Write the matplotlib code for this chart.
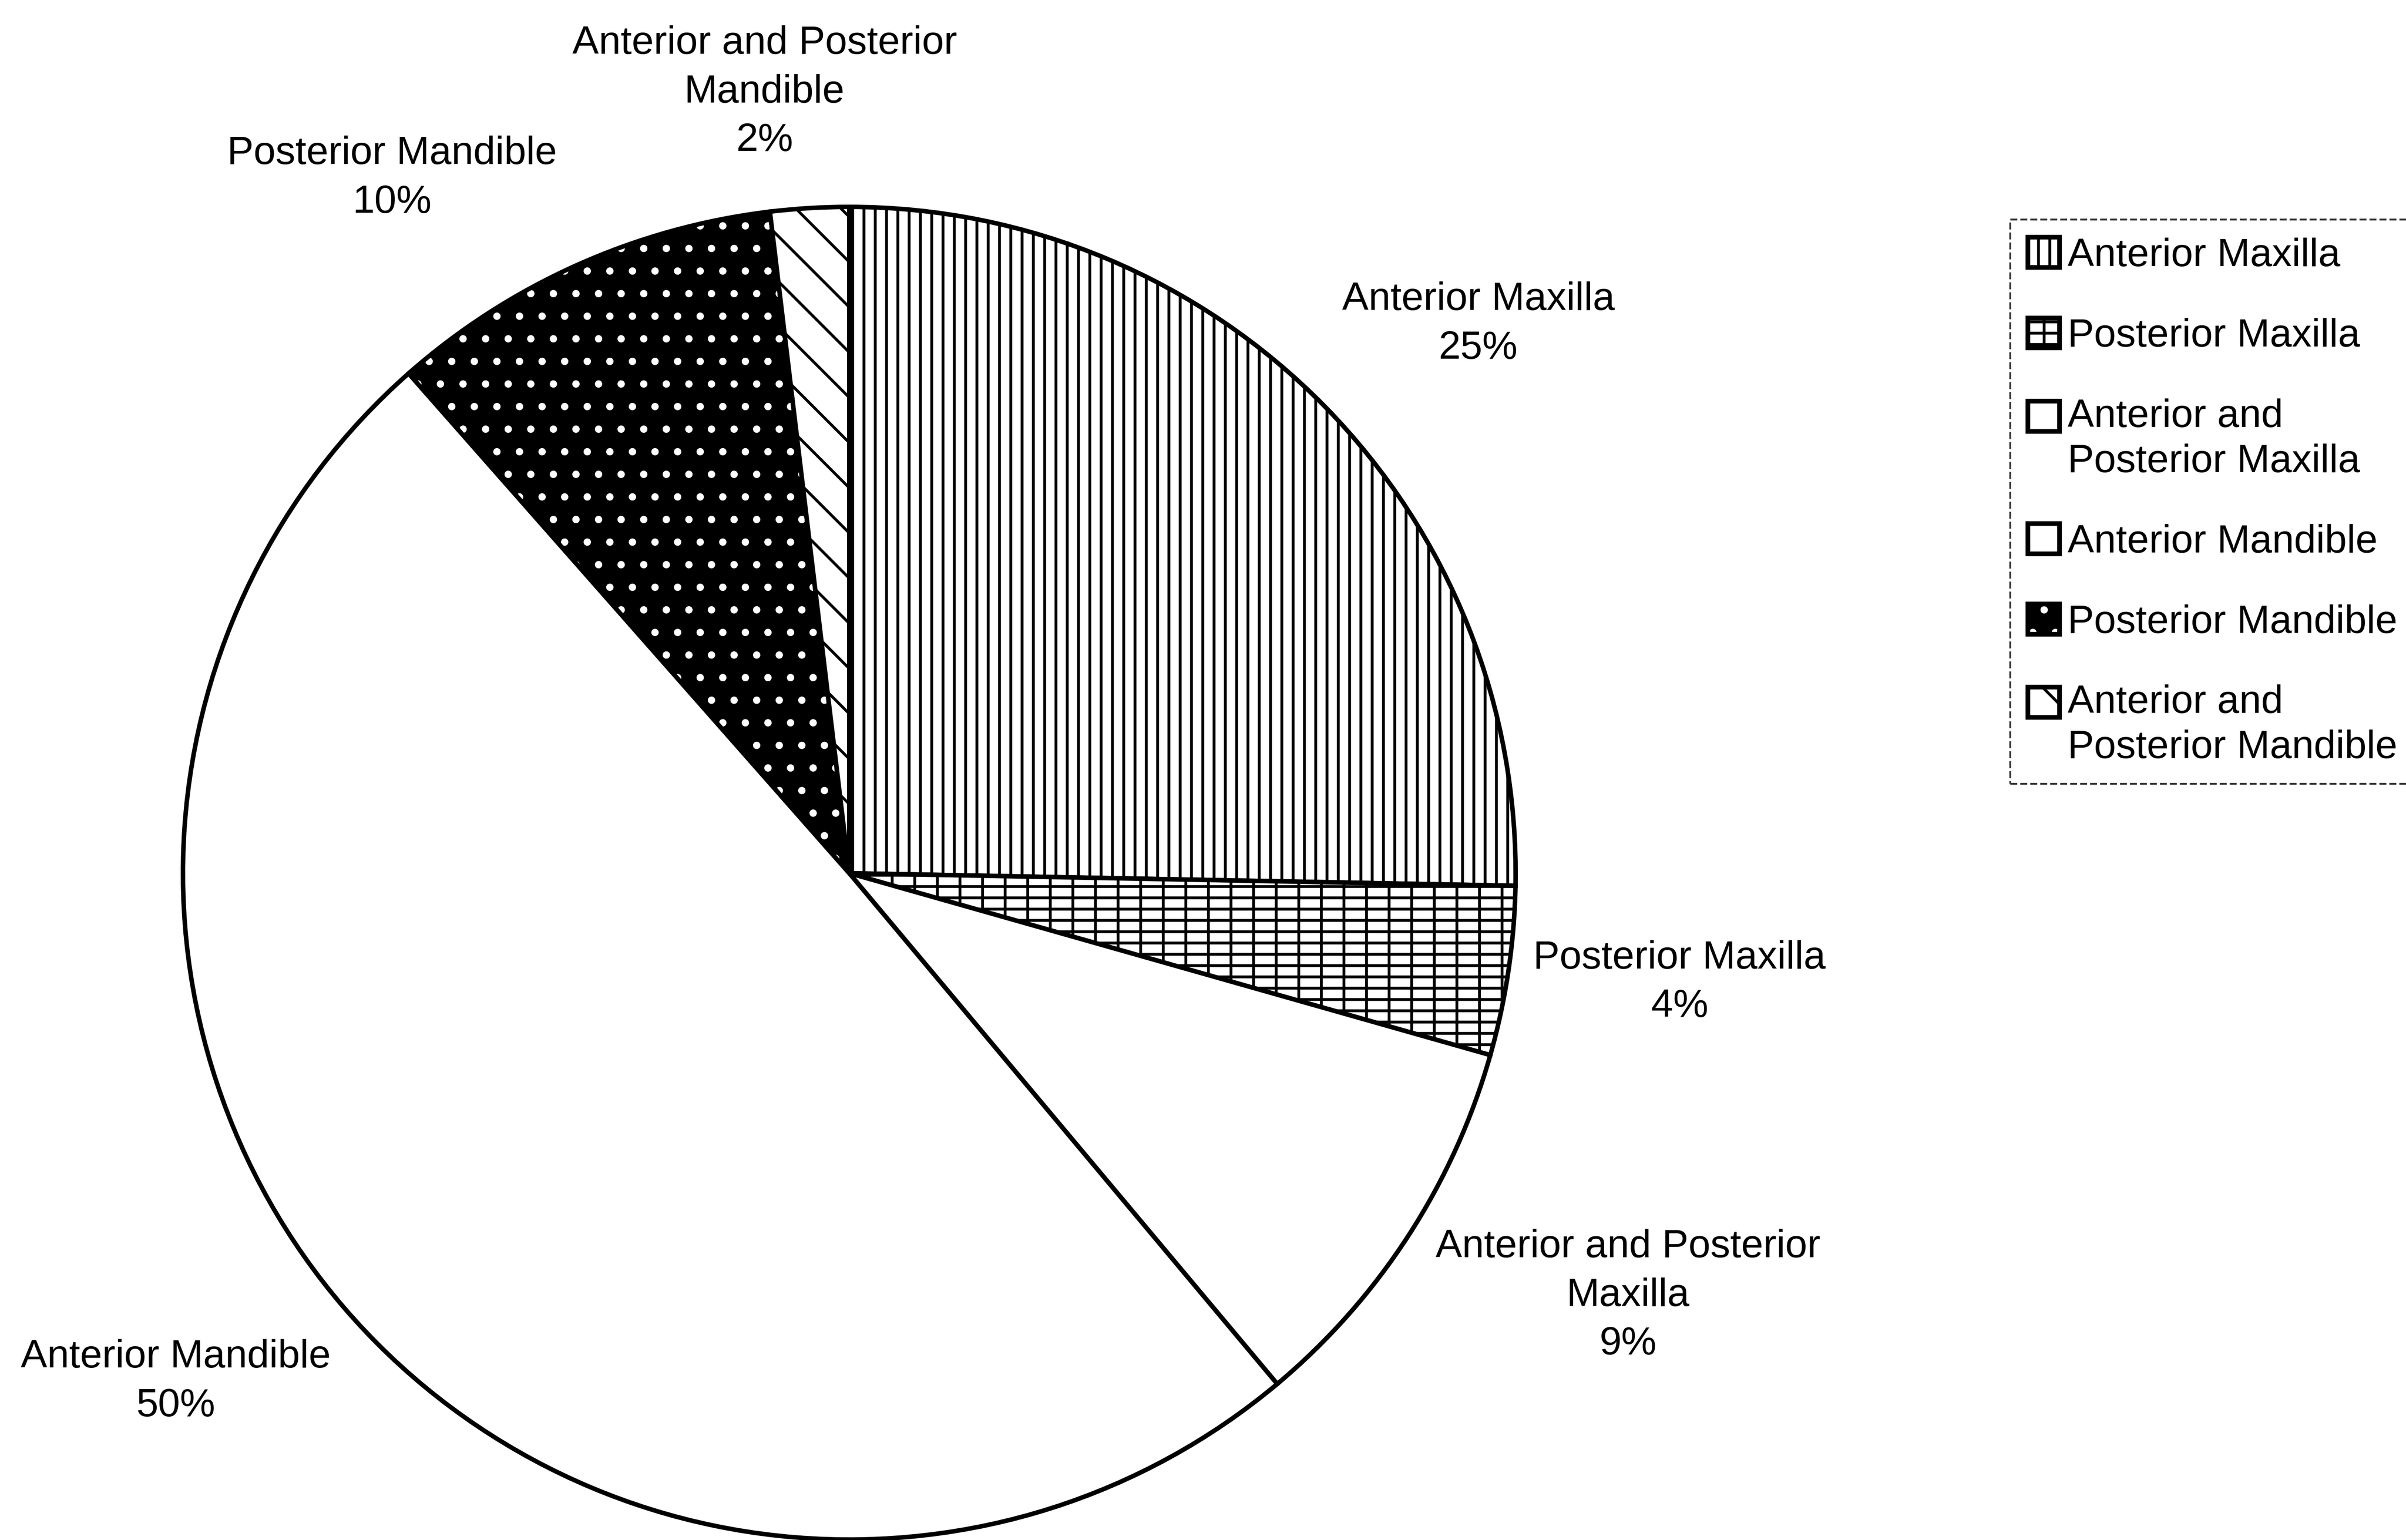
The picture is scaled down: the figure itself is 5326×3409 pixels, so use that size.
import matplotlib
matplotlib.use("Agg")
import matplotlib.pyplot as plt
from matplotlib.patches import Rectangle
from matplotlib.legend_handler import HandlerPatch

# ---- data ----
categories = ["Anterior Maxilla", "Posterior Maxilla", "Anterior and Posterior Maxilla",
              "Anterior Mandible", "Posterior Mandible", "Anterior and Posterior Mandible"]
values = [25.3, 4.1, 9.5, 49.6, 9.6, 1.9]
# percentages printed on the chart
pct_labels = ["25%", "4%", "9%", "50%", "10%", "2%"]
slice_names = ["Anterior Maxilla", "Posterior Maxilla", "Anterior and Posterior\nMaxilla",
               "Anterior Mandible", "Posterior Mandible", "Anterior and Posterior\nMandible"]
legend_labels = ["Anterior Maxilla", "Posterior Maxilla", "Anterior and\nPosterior Maxilla",
                 "Anterior Mandible", "Posterior Mandible", "Anterior and\nPosterior Mandible"]

# ---- styles / layout ----
facecolors = ["white", "white", "white", "white", "black", "white"]
hatches = ["||", "--|", None, None, ".", "\\"]
hatch_colors = ["black", "black", "black", "black", "white", "black"]
label_xy = [(0.944, 0.824), (1.246, -0.164), (1.169, -0.634),
            (-1.011, -0.763), (-0.686, 1.043), (-0.127, 1.172)]

plt.rcParams["font.family"] = ["Liberation Sans", "DejaVu Sans"]
plt.rcParams["hatch.linewidth"] = 1.5

W, H, DPI = 5326, 3409, 300
fig = plt.figure(figsize=(W / DPI, H / DPI), dpi=DPI, facecolor="white")

cx, cy, R = 1880, 1933, 1475
ax = fig.add_axes([(cx - R) / W, (H - cy - R) / H, 2 * R / W, 2 * R / H])

wedges, _ = ax.pie(values, startangle=90, counterclock=False, radius=1,
                   wedgeprops=dict(edgecolor="black", linewidth=2.4))
for w, fc, h, hc in zip(wedges, facecolors, hatches, hatch_colors):
    w.set_facecolor(fc)
    if h:
        w.set_hatch(h)
    w._hatch_color = matplotlib.colors.to_rgba(hc)

ax.set_xlim(-1.0, 1.0)
ax.set_ylim(-1.0, 1.0)
ax.set_aspect("equal")
ax.axis("off")

for name, p, (x, y) in zip(slice_names, pct_labels, label_xy):
    ax.text(x, y, f"{name}\n{p}", ha="center", va="center", fontsize=21,
            linespacing=1.42, color="black")

# legend: handles of two-line entries sit on the first text line
def make_handler(shift_pts):
    def patch_func(legend, orig_handle, xdescent, ydescent, width, height, fontsize):
        return Rectangle((-xdescent, -ydescent + shift_pts), width, height)
    return HandlerPatch(patch_func=patch_func)

handles, hmap = [], {}
for fc, h, hc, lab in zip(facecolors, hatches, hatch_colors, legend_labels):
    r = Rectangle((0, 0), 1, 1, facecolor=fc, edgecolor="black", linewidth=2.5, hatch=h)
    r._hatch_color = matplotlib.colors.to_rgba(hc)
    handles.append(r)
    hmap[r] = make_handler(12.5 if "\n" in lab else 0.0)

leg = fig.legend(handles, legend_labels, loc="upper left", handler_map=hmap,
                 bbox_to_anchor=(4450 / W, 1 - 486 / H), bbox_transform=fig.transFigure,
                 frameon=True, fancybox=False, edgecolor="black", fontsize=21,
                 handlelength=0.8, handleheight=0.8, handletextpad=0.2,
                 borderpad=0.45, labelspacing=1.1, borderaxespad=0)
for t in leg.get_texts():
    t.set_linespacing(1.3)
leg.get_frame().set_linestyle("--")
leg.get_frame().set_linewidth(1.0)

fig.savefig("out.png", dpi=DPI, facecolor="white")
